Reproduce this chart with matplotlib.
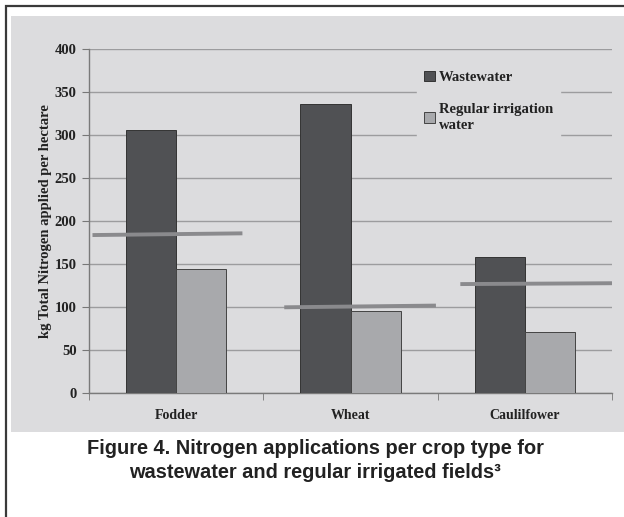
import numpy as np
import matplotlib
matplotlib.use("Agg")
import matplotlib.pyplot as plt
from matplotlib.patches import Rectangle, Patch

# data
crops = ["Fodder", "Wheat", "Caulilfower"]
wastewater = [306, 336, 159]
regular = [145, 96, 71]
# recommended N (grey bars across each group), left and right end values
ref_start = [184, 100, 127]
ref_end = [186, 102, 128]
yticks = [0, 50, 100, 150, 200, 250, 300, 350, 400]

panel = "#dcdcde"
dark = "#505154"
light = "#a8a9ac"
refcol = "#8a8a8d"
grid = "#9c9c9e"
txt = "#222222"

fig = plt.figure(figsize=(6.24, 5.17), dpi=100)
fig.patch.set_facecolor("white")

W, H = 624.0, 517.0
# outer frame and grey panel
fig.patches.append(Rectangle((6 / W, -0.1), 1.2, (1 - 6 / H) + 0.1, transform=fig.transFigure,
                             facecolor="none", edgecolor="#3a3a3a", lw=1.6, zorder=-10))
fig.patches.append(Rectangle((11 / W, 1 - 432 / H), 1.0, (432 - 16) / H, transform=fig.transFigure,
                             facecolor=panel, edgecolor="none", zorder=-9))

ax = fig.add_axes([89 / W, 1 - 393.3 / H, (612 - 89) / W, (393.3 - 49.3) / H])
ax.set_zorder(1)
ax.set_facecolor(panel)
ax.patch.set_alpha(0)

x = np.arange(len(crops))
bw = 0.288
ax.bar(x - bw / 2, wastewater, bw, color=dark, edgecolor="#333333", lw=0.7, zorder=3)
ax.bar(x + bw / 2, regular, bw, color=light, edgecolor="#444444", lw=0.7, zorder=3)

# reference lines, offsets from category centre
spans = [(-0.48, 0.38), (-0.38, 0.49), (-0.37, 0.5)]
for i in range(len(crops)):
    ax.plot([x[i] + spans[i][0], x[i] + spans[i][1]], [ref_start[i], ref_end[i]],
            color=refcol, lw=2.8, solid_capstyle="butt", zorder=4)

ax.set_xlim(-0.5, 2.5)
ax.set_ylim(0, 400)
ax.set_yticks(yticks)
ax.yaxis.grid(True, color=grid, lw=1.0, zorder=1)
ax.set_axisbelow(True)

ax.set_xticks(x)
ax.set_xticklabels(crops, fontfamily="Liberation Serif", fontweight="bold", fontsize=10, color=txt)
ax.set_xticks([-0.5, 0.5, 1.5, 2.5], minor=True)
ax.tick_params(axis="x", which="major", length=0, pad=11)
ax.tick_params(axis="x", which="minor", length=5, direction="out", color="#777777")
ax.tick_params(axis="y", length=5, direction="out", color="#777777", pad=4)
for lab in ax.get_yticklabels():
    lab.set_fontfamily("Liberation Serif")
    lab.set_fontweight("bold")
    lab.set_fontsize(10.5)
    lab.set_color(txt)

for s in ["top", "right"]:
    ax.spines[s].set_visible(False)
for s in ["left", "bottom"]:
    ax.spines[s].set_color("#7a7a7a")
    ax.spines[s].set_linewidth(1.0)

ax.set_ylabel("kg Total Nitrogen applied per hectare", fontfamily="Liberation Serif",
              fontweight="bold", fontsize=10.5, color=txt, labelpad=1.5)

handles = [Patch(facecolor=dark, edgecolor="#333333", lw=0.7),
           Patch(facecolor=light, edgecolor="#444444", lw=0.7)]
leg = ax.legend(handles, ["Wastewater", "Regular irrigation\nwater"],
                loc="upper left", bbox_to_anchor=((417 - 89) / (612 - 89), (393.3 - 64) / 344),
                frameon=True, facecolor=panel, edgecolor=panel, framealpha=1, fancybox=False,
                handlelength=0.75, handleheight=0.75, handletextpad=0.3, labelspacing=1.3,
                borderpad=0.45, borderaxespad=0,
                prop={"family": "Liberation Serif", "weight": "bold", "size": 10.5})
for t in leg.get_texts():
    t.set_color(txt)
    t.set_linespacing(1.35)
leg.set_zorder(2)

fig.text(0.505, 1 - 449 / H, "Figure 4. Nitrogen applications per crop type for",
         ha="center", va="center", fontfamily="Liberation Sans", fontweight="bold",
         fontsize=14.4, color=txt)
fig.text(0.505, 1 - 472 / H, "wastewater and regular irrigated fields\u00b3",
         ha="center", va="center", fontfamily="Liberation Sans", fontweight="bold",
         fontsize=14.4, color=txt)

fig.savefig("out.png", dpi=100)
